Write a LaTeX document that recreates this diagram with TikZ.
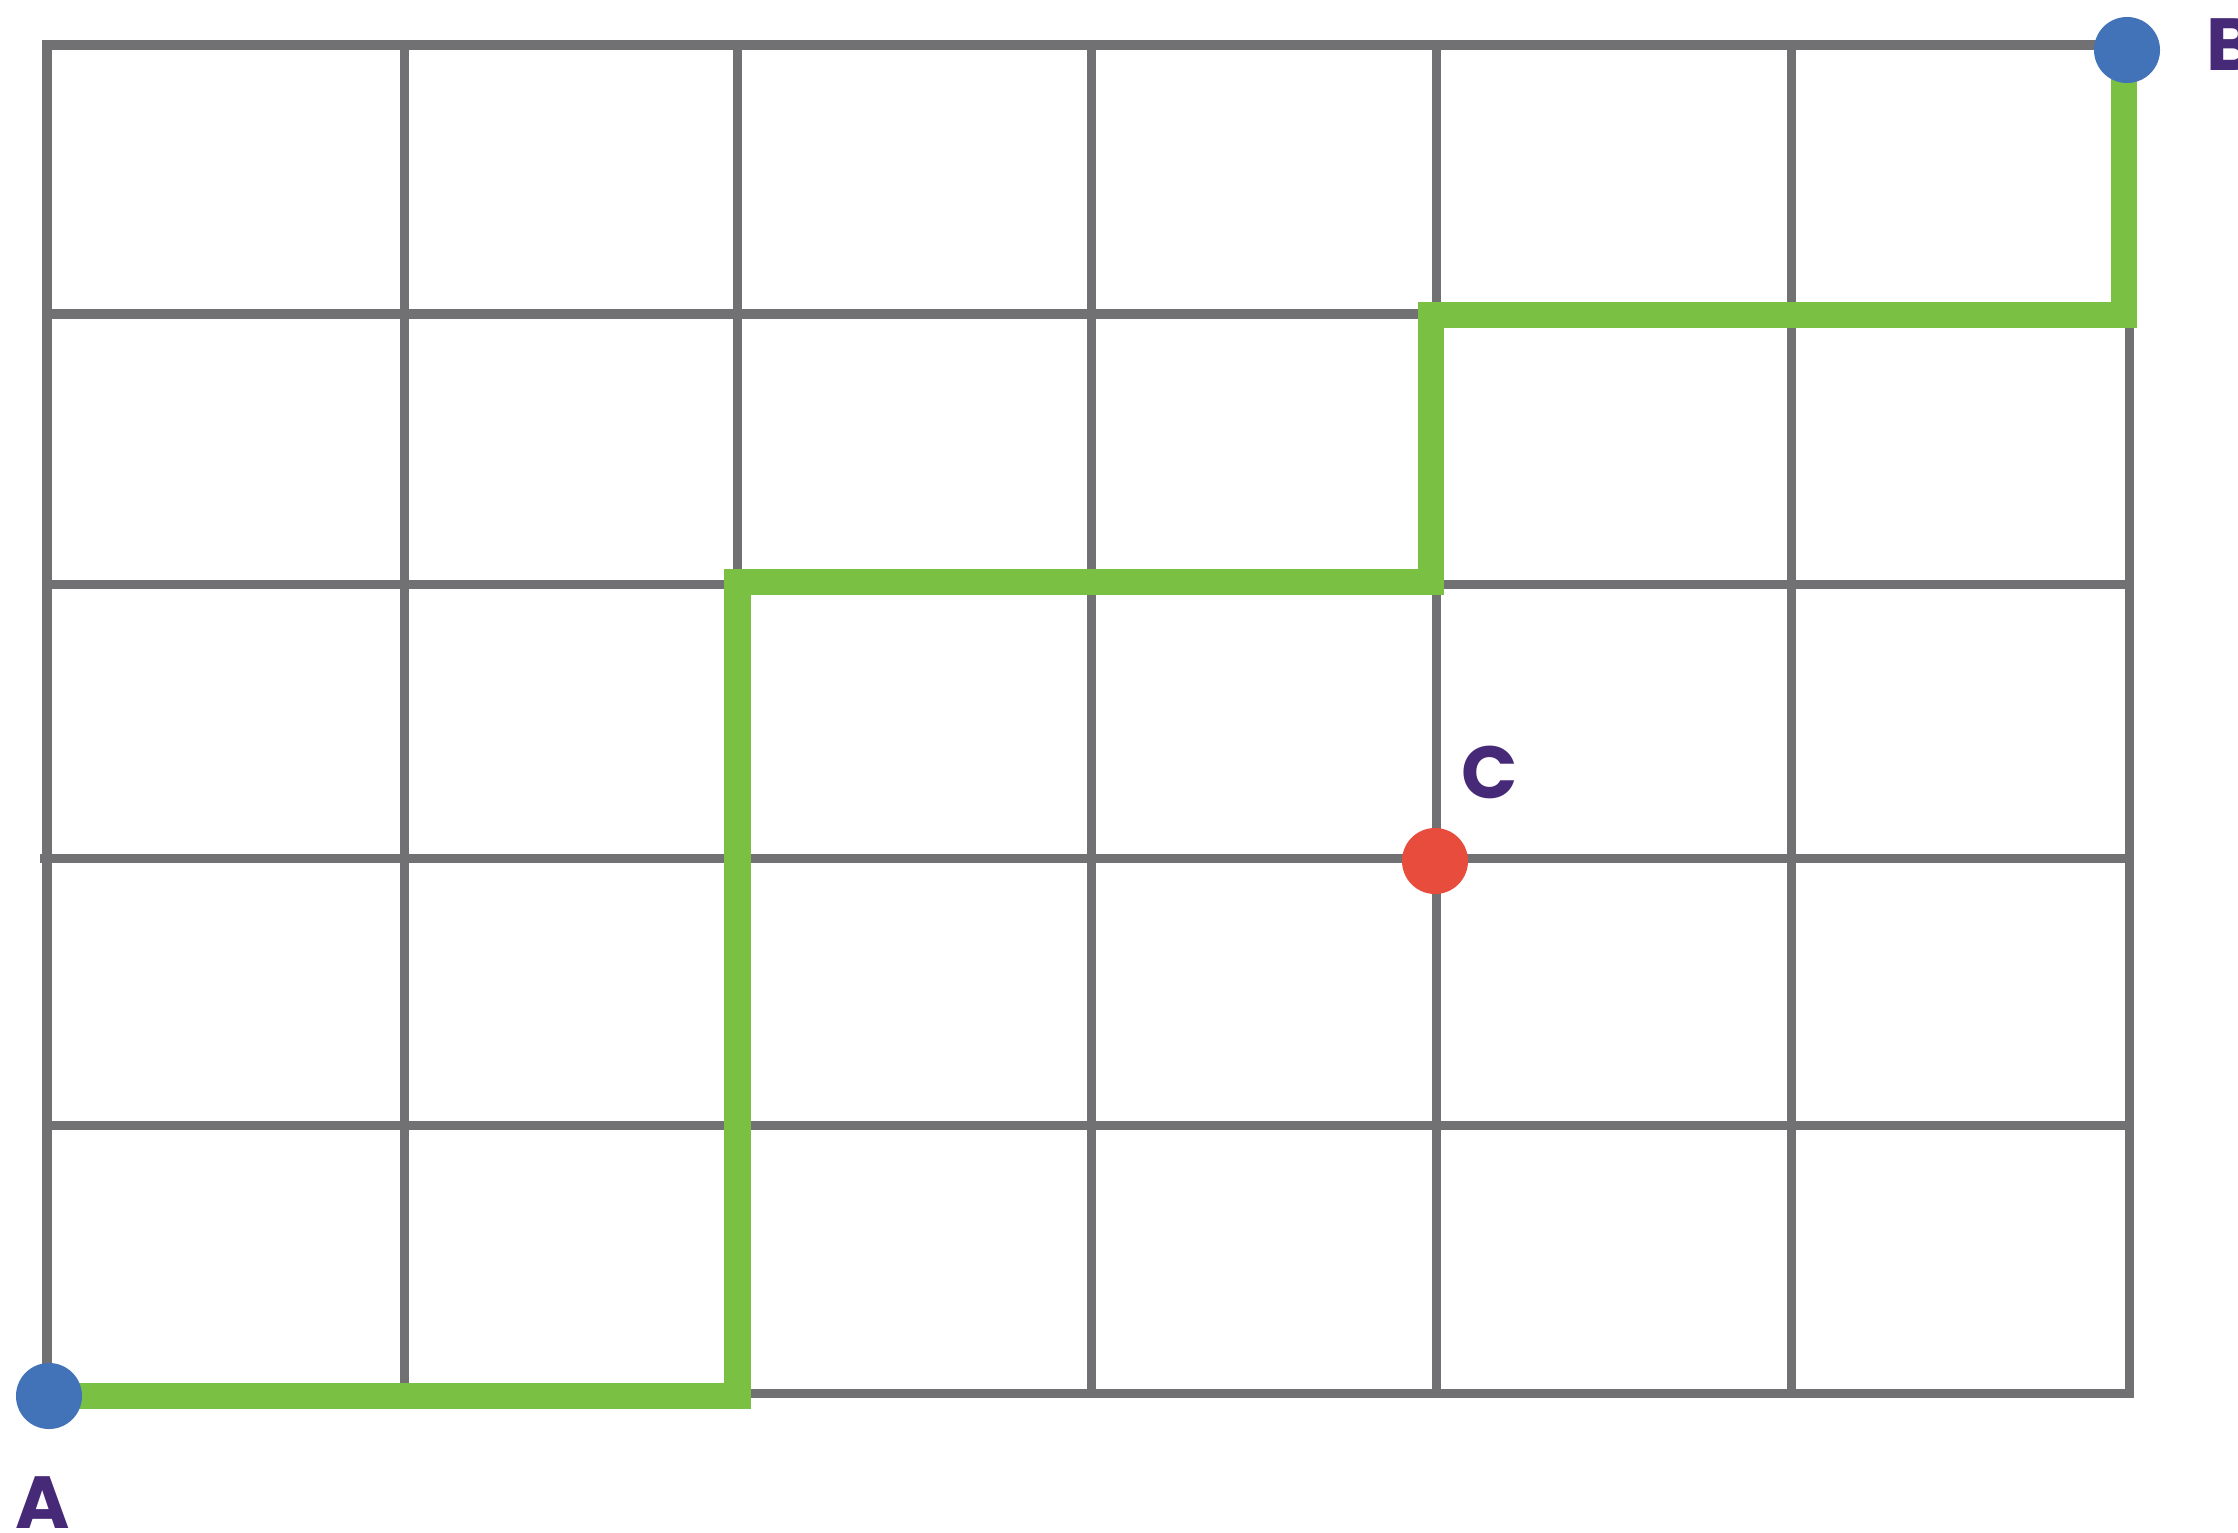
\documentclass[tikz,border=0pt]{standalone}
\usepackage{fontspec}
\setmainfont{Poppins}
\usepackage{xcolor}
\definecolor{gridgray}{HTML}{717073}
\definecolor{routegreen}{HTML}{7AC143}
\definecolor{dotblue}{HTML}{4272B7}
\definecolor{dotred}{HTML}{E84C3D}
\definecolor{labelpurple}{HTML}{472A77}
\tikzset{
    gridline/.style={gridgray, line width=0.09cm},
    route/.style={routegreen, line width=0.265cm, line join=miter},
    dotmark/.style={circle, fill=#1, inner sep=0pt, minimum size=0.66cm},
    dotlabel/.style={labelpurple, inner sep=0pt, font=\fontsize{21}{21}\selectfont\bfseries},
}
\newcommand{\gridRow}[2]{%
    \draw[gridline] (#1,#2) -- (2129,#2);
}
\newcommand{\gridCol}[1]{%
    \draw[gridline] (#1,45) -- (#1,1393);
}
\begin{document}
\begin{tikzpicture}[x=0.01cm, y=-0.01cm]
    \useasboundingbox (0,0) rectangle (2238,1533);
    % points
    \coordinate (pA) at (49,1396);
    \coordinate (pB) at (2124,50);
    \coordinate (pC) at (1435,861);
    % grid
    \draw[gridline] (47,45) rectangle (2129,1393);
    \foreach \x in {404, 737.5, 1091, 1436.5, 1791} {
        \gridCol{\x}
    }
    \gridRow{47}{314}
    \gridRow{47}{584}
    \gridRow{40}{858}
    \gridRow{47}{1125}
    % route from A to B
    \coordinate (r1) at (737.5,1396);
    \coordinate (r2) at (737.5,582);
    \coordinate (r3) at (1431,582);
    \coordinate (r4) at (1431,315);
    \coordinate (r5) at (2124,315);
    \draw[route] (pA) -- (r1) -- (r2) -- (r3) -- (r4) -- (r5) -- (pB);
    % dots and labels
    \node[dotmark=dotblue] (A) at (pA) {};
    \node[dotmark=dotblue] (B) at (2127,50) {};
    \node[dotmark=dotred] (C) at (pC) {};
    \node[dotlabel] (labA) at (43,1503) {A};
    \node[dotlabel, anchor=west] (labB) at (2206,45) {B};
    \node[dotlabel] (labC) at (1490,772) {C};
\end{tikzpicture}
\end{document}
